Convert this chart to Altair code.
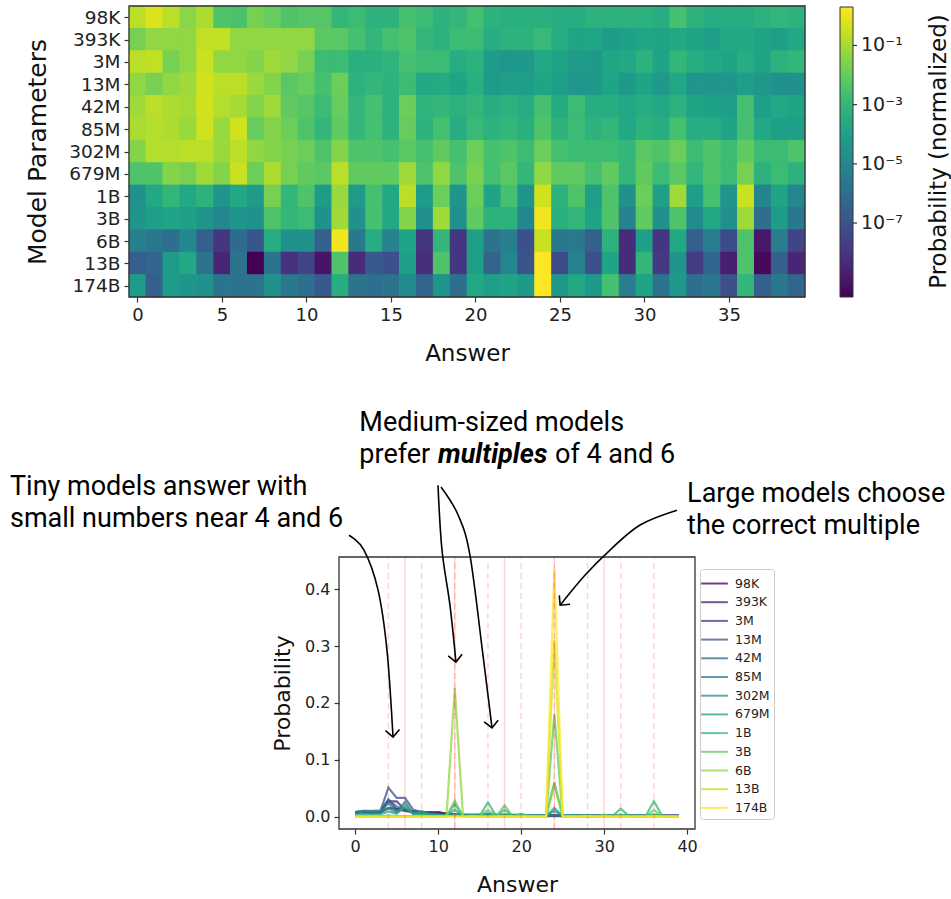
import altair as alt
import pandas as pd

W, H = 951, 899

# ---------------- data ----------------
models = ['98K', '393K', '3M', '13M', '42M', '85M', '302M', '679M', '1B', '3B', '6B', '13B', '174B']
answers = list(range(40))

# heatmap: log10 of normalized probability, one list per model (answers 0..39)
heat_98K = [-0.7,-0.2,-0.7,-1.4,-0.9,-2.4,-2.5,-1.7,-2.0,-2.4,-2.3,-2.3,-3.0,-2.8,-3.2,-3.2,-2.6,-2.8,-3.2,-3.0,-2.6,-3.2,-3.3,-3.3,-3.3,-3.4,-3.4,-3.2,-3.2,-3.2,-3.2,-3.4,-2.6,-3.2,-3.4,-3.4,-3.4,-3.2,-3.0,-3.2]
heat_393K = [-1.7,-1.3,-1.3,-1.3,-0.6,-0.6,-1.3,-1.3,-1.3,-1.3,-1.3,-2.2,-2.2,-2.6,-3.0,-2.6,-2.4,-3.0,-3.2,-2.8,-2.8,-3.4,-3.2,-3.2,-2.9,-3.4,-3.8,-3.7,-4.1,-3.9,-3.7,-3.8,-3.6,-3.8,-4.0,-3.6,-3.6,-3.8,-4.0,-3.6]
heat_3M = [-0.7,-0.6,-1.7,-1.3,-0.5,-1.3,-1.3,-1.5,-1.1,-1.3,-1.7,-2.8,-2.8,-3.3,-3.3,-3.1,-2.6,-2.8,-2.8,-3.4,-3.2,-4.1,-4.3,-4.2,-3.6,-3.8,-4.1,-4.2,-3.7,-3.6,-3.2,-3.8,-3.0,-3.4,-3.6,-3.8,-3.4,-3.8,-3.2,-3.0]
heat_13M = [-1.3,-1.7,-1.3,-1.1,-0.4,-0.7,-0.7,-1.2,-1.5,-2.2,-2.0,-2.6,-1.9,-3.2,-3.0,-3.2,-2.8,-3.6,-3.5,-3.8,-3.3,-4.1,-4.0,-4.0,-3.8,-4.0,-4.3,-4.3,-3.8,-4.2,-3.8,-4.2,-3.6,-4.4,-4.4,-4.4,-4.0,-4.3,-4.6,-4.6]
heat_42M = [-1.1,-0.7,-0.9,-1.0,-0.4,-0.8,-1.0,-1.5,-1.1,-2.1,-2.3,-2.8,-2.0,-3.0,-2.6,-3.2,-1.9,-3.1,-3.0,-3.2,-3.0,-3.4,-3.2,-3.4,-2.6,-3.5,-2.8,-3.4,-3.4,-3.6,-3.4,-3.6,-3.2,-3.8,-3.9,-4.0,-2.6,-4.0,-3.6,-3.8]
heat_85M = [-0.9,-0.8,-0.9,-1.2,-0.4,-1.2,-0.4,-2.0,-1.5,-1.9,-2.4,-3.0,-2.1,-3.0,-2.6,-3.2,-2.0,-3.2,-2.6,-3.4,-2.9,-3.2,-3.0,-3.3,-2.4,-3.2,-2.8,-3.2,-3.0,-3.6,-3.2,-3.4,-2.6,-3.4,-3.4,-3.8,-2.6,-3.6,-4.0,-4.0]
heat_302M = [-1.5,-0.8,-0.8,-0.7,-0.7,-1.2,-0.7,-1.3,-1.5,-1.7,-1.9,-2.4,-1.5,-2.4,-2.4,-2.6,-2.2,-2.6,-2.1,-2.6,-1.9,-2.6,-2.4,-2.8,-1.9,-2.6,-2.8,-2.8,-2.8,-3.0,-2.2,-2.4,-1.9,-2.8,-2.4,-2.8,-2.1,-2.8,-2.8,-2.4]
heat_679M = [-2.4,-2.4,-1.5,-1.7,-1.1,-1.5,-0.5,-1.9,-0.9,-1.7,-2.1,-2.2,-0.7,-2.1,-2.1,-2.1,-1.1,-2.4,-1.3,-2.4,-1.7,-2.6,-2.2,-3.0,-1.3,-2.1,-2.1,-2.6,-2.1,-3.0,-2.1,-2.8,-2.2,-3.0,-2.4,-2.8,-1.7,-3.2,-2.8,-3.2]
heat_1B = [-4.6,-3.6,-3.0,-3.6,-3.2,-4.4,-3.6,-4.1,-1.7,-3.0,-2.4,-4.1,-1.2,-4.1,-2.6,-3.6,-0.7,-4.1,-1.9,-4.4,-1.9,-3.8,-2.6,-4.4,-0.4,-3.2,-2.4,-4.0,-2.4,-4.6,-1.9,-4.0,-1.1,-4.0,-2.6,-4.4,-0.5,-5.1,-3.8,-5.0]
heat_3B = [-4.4,-4.0,-3.8,-4.0,-4.4,-5.0,-4.4,-4.6,-2.4,-3.0,-2.8,-4.6,-1.1,-4.6,-2.6,-3.6,-1.5,-4.6,-1.1,-4.6,-2.1,-3.2,-3.2,-5.0,0.1,-3.3,-3.0,-3.8,-2.4,-5.2,-2.1,-4.6,-2.4,-4.8,-3.6,-4.6,-1.1,-6.0,-4.1,-5.6]
heat_6B = [-5.3,-5.6,-6.0,-5.0,-6.6,-8.0,-6.1,-6.9,-3.4,-4.6,-4.6,-6.6,0.1,-5.6,-3.4,-5.2,-3.8,-8.0,-3.0,-8.0,-4.0,-5.8,-5.4,-7.1,-0.5,-5.6,-5.6,-6.6,-3.2,-8.3,-4.0,-8.0,-3.6,-6.6,-5.4,-7.3,-2.4,-8.9,-5.4,-7.5]
heat_13B = [-6.6,-6.3,-4.1,-3.6,-5.8,-8.5,-5.8,-9.5,-5.8,-8.1,-7.5,-9.0,-2.4,-8.3,-6.8,-7.1,-4.0,-8.2,-2.4,-8.0,-4.0,-6.4,-5.0,-7.0,0.3,-7.3,-5.2,-7.1,-3.8,-8.3,-3.0,-7.9,-4.4,-7.8,-6.3,-8.7,-2.4,-9.3,-6.6,-8.5]
heat_174B = [-4.1,-6.6,-4.1,-4.4,-4.6,-5.8,-5.8,-5.8,-4.6,-5.6,-6.0,-6.8,-3.4,-5.8,-6.0,-5.8,-4.8,-6.4,-4.4,-6.0,-3.6,-4.0,-3.8,-4.2,0.3,-4.2,-3.6,-4.2,-2.6,-5.4,-3.8,-5.8,-4.2,-6.0,-5.6,-7.1,-3.0,-6.6,-5.6,-6.3]
heat_rows = [heat_98K, heat_393K, heat_3M, heat_13M, heat_42M, heat_85M, heat_302M,
             heat_679M, heat_1B, heat_3B, heat_6B, heat_13B, heat_174B]

# line chart: probability per answer, one list per model
line_98K = [0.008,0.009,0.008,0.007,0.015,0.014,0.010,0.008,0.007,0.006,0.007,0.006,0.004,0.003,0.003,0.003,0.003,0.003,0.003,0.003,0.003,0.002,0.002,0.002,0.002,0.002,0.002,0.002,0.002,0.002,0.002,0.002,0.002,0.002,0.002,0.002,0.002,0.002,0.002,0.002]
line_393K = [0.006,0.009,0.009,0.009,0.027,0.027,0.012,0.009,0.008,0.008,0.008,0.005,0.004,0.003,0.003,0.003,0.003,0.003,0.002,0.002,0.002,0.002,0.002,0.002,0.002,0.002,0.002,0.002,0.002,0.002,0.002,0.002,0.002,0.002,0.002,0.002,0.002,0.002,0.002,0.002]
line_3M = [0.008,0.009,0.006,0.007,0.030,0.012,0.012,0.009,0.008,0.007,0.005,0.003,0.003,0.002,0.002,0.002,0.002,0.002,0.002,0.002,0.002,0.001,0.001,0.001,0.002,0.001,0.001,0.001,0.001,0.001,0.002,0.001,0.002,0.001,0.001,0.001,0.001,0.001,0.001,0.002]
line_13M = [0.007,0.006,0.007,0.008,0.051,0.033,0.033,0.012,0.008,0.005,0.004,0.003,0.003,0.002,0.002,0.002,0.002,0.001,0.001,0.001,0.002,0.001,0.001,0.001,0.001,0.001,0.001,0.001,0.001,0.001,0.001,0.001,0.001,0.001,0.001,0.001,0.001,0.001,0.001,0.001]
line_42M = [0.008,0.010,0.009,0.008,0.030,0.018,0.012,0.007,0.008,0.004,0.003,0.002,0.003,0.002,0.002,0.002,0.003,0.002,0.002,0.002,0.002,0.001,0.002,0.001,0.002,0.001,0.002,0.001,0.001,0.001,0.001,0.001,0.002,0.001,0.001,0.001,0.002,0.001,0.001,0.001]
line_85M = [0.008,0.009,0.008,0.007,0.024,0.008,0.026,0.005,0.006,0.004,0.003,0.002,0.003,0.002,0.002,0.002,0.003,0.002,0.002,0.002,0.002,0.002,0.002,0.002,0.002,0.002,0.002,0.002,0.002,0.001,0.002,0.001,0.002,0.001,0.001,0.001,0.002,0.001,0.001,0.001]
line_302M = [0.005,0.010,0.010,0.011,0.015,0.007,0.015,0.006,0.005,0.004,0.003,0.002,0.005,0.002,0.002,0.002,0.003,0.002,0.003,0.002,0.003,0.002,0.002,0.002,0.010,0.002,0.002,0.002,0.002,0.002,0.002,0.002,0.003,0.002,0.002,0.002,0.003,0.002,0.002,0.002]
line_679M = [0.003,0.003,0.005,0.004,0.009,0.005,0.020,0.004,0.010,0.004,0.003,0.002,0.012,0.002,0.002,0.002,0.006,0.002,0.004,0.002,0.003,0.002,0.002,0.001,0.015,0.002,0.002,0.002,0.002,0.001,0.002,0.001,0.002,0.001,0.002,0.001,0.004,0.001,0.001,0.001]
line_1B = [0.001,0.001,0.002,0.001,0.002,0.001,0.001,0.001,0.004,0.001,0.002,0.001,0.022,0.001,0.002,0.001,0.025,0.001,0.012,0.001,0.005,0.001,0.002,0.001,0.060,0.001,0.002,0.001,0.002,0.001,0.003,0.001,0.014,0.001,0.002,0.001,0.027,0.001,0.001,0.001]
line_3B = [0.001,0.001,0.001,0.001,0.001,0.000,0.001,0.001,0.002,0.001,0.001,0.000,0.028,0.000,0.002,0.001,0.012,0.000,0.020,0.000,0.004,0.001,0.001,0.000,0.180,0.001,0.001,0.001,0.002,0.000,0.003,0.000,0.004,0.000,0.001,0.000,0.012,0.000,0.001,0.000]
line_6B = [0.000,0.000,0.000,0.000,0.000,0.000,0.000,0.000,0.001,0.000,0.000,0.000,0.226,0.000,0.001,0.000,0.000,0.000,0.001,0.000,0.000,0.000,0.000,0.000,0.055,0.000,0.000,0.000,0.001,0.000,0.000,0.000,0.000,0.000,0.000,0.000,0.002,0.000,0.000,0.000]
line_13B = [0.000,0.000,0.000,0.000,0.000,0.000,0.000,0.000,0.000,0.000,0.000,0.000,0.002,0.000,0.000,0.000,0.000,0.000,0.002,0.000,0.000,0.000,0.000,0.000,0.310,0.000,0.000,0.000,0.000,0.000,0.001,0.000,0.000,0.000,0.000,0.000,0.002,0.000,0.000,0.000]
line_174B = [0.000,0.000,0.000,0.000,0.000,0.000,0.000,0.000,0.000,0.000,0.000,0.000,0.000,0.000,0.000,0.000,0.000,0.000,0.000,0.000,0.000,0.000,0.000,0.000,0.435,0.000,0.000,0.000,0.001,0.000,0.000,0.000,0.000,0.000,0.000,0.000,0.000,0.000,0.000,0.000]
line_rows = [line_98K, line_393K, line_3M, line_13M, line_42M, line_85M, line_302M,
             line_679M, line_1B, line_3B, line_6B, line_13B, line_174B]

line_colors = ['#440154', '#481f70', '#443983', '#3b528b', '#31688e', '#287c8e', '#21918c',
               '#20a486', '#35b779', '#5ec962', '#90d743', '#c8e020', '#fde725']

dashed_multiples = [4, 8, 12, 16, 20, 24, 28, 32, 36]
solid_multiples = [6, 12, 18, 24, 30]

heat_x_ticks = [0, 5, 10, 15, 20, 25, 30, 35]
line_x_ticks = [0, 10, 20, 30, 40]
line_y_ticks = [0.0, 0.1, 0.2, 0.3, 0.4]
cbar_ticks = [-7, -5, -3, -1]
cbar_labels = ['10⁻⁷', '10⁻⁵', '10⁻³', '10⁻¹']
cbar_domain = [-9.5, 0.3]

heat_x_domain = [-0.5, 39.5]
heat_y_domain = [-0.5, 12.5]
line_x_domain = [-1.95, 40.95]
line_y_domain = [-0.02175, 0.45675]

# annotations (line-chart data coordinates)
ann_text = ['Tiny models answer with', 'small numbers near 4 and 6', 'Medium-sized models',
            'prefer', 'of 4 and 6', 'Large models choose', 'the correct multiple']
ann_x = [-41.6, -41.6, 0.5, 0.5, 24.08, 40.0, 40.0]
ann_y = [0.580, 0.524, 0.693, 0.636, 0.636, 0.568, 0.512]
emph_text = ['multiples']
emph_x = [9.98]
emph_y = [0.636]

arrow_id = [1, 1, 1, 1, 1, 2, 2, 2, 2, 3, 3, 3, 3, 3, 4, 4, 4, 4, 4]
arrow_x = [-0.75, 1.06, 2.75, 3.83, 4.56, 9.98, 10.46, 11.42, 12.14,
           10.34, 12.39, 13.83, 15.4, 16.49, 38.78, 34.33, 30.71, 27.71, 24.7]
arrow_y = [0.495, 0.469, 0.399, 0.293, 0.140, 0.583, 0.469, 0.372, 0.272,
           0.580, 0.531, 0.460, 0.284, 0.156, 0.539, 0.513, 0.469, 0.425, 0.372]
head_x = [4.56, 12.14, 16.49, 24.7]
head_y = [0.140, 0.272, 0.156, 0.372]
head_angle = [356, 354, 353, 40]

cbar_title_pos = [47.4, 6.0]

# ---------------- layout (pixels) ----------------
HEAT_X = [129, 805]
HEAT_Y = [6, 297]
LINE_X = [339, 695]
LINE_Y = [829, 557]
CBAR_X = [840, 853]
CBAR_Y = [297, 7]
CBAR_TICK_LEN = 4
CELL_HALF = 0.52  # slight overlap of neighbouring cells to avoid hairline seams

FONT = 'DejaVu Sans'
ANN_FONT = 'Roboto'

# ---------------- tables ----------------
heat_df = pd.DataFrame([
    {'model': m, 'row': r, 'answer': a, 'logp': v}
    for r, (m, vals) in enumerate(zip(models, heat_rows))
    for a, v in zip(answers, vals)
])
line_df = pd.DataFrame([
    {'model': m, 'answer': a, 'p': v}
    for m, vals in zip(models, line_rows)
    for a, v in zip(answers, vals)
])

x_heat = alt.Scale(domain=heat_x_domain, range=HEAT_X, nice=False, zero=False)
y_heat = alt.Scale(domain=heat_y_domain, range=HEAT_Y, nice=False, zero=False)
x_line = alt.Scale(domain=line_x_domain, range=LINE_X, nice=False, zero=False)
y_line = alt.Scale(domain=line_y_domain, range=LINE_Y, nice=False, zero=False)
y_cbar = alt.Scale(domain=cbar_domain, range=CBAR_Y, nice=False, zero=False)

row_label_expr = '[' + ','.join("'%s'" % m for m in models) + '][datum.value]'
cbar_label_expr = ''.join("datum.value == %d ? '%s' : " % (v, s) for v, s in zip(cbar_ticks, cbar_labels)) + "''"

# ---------------- heatmap ----------------
heat = alt.Chart(heat_df).transform_calculate(
    x1='datum.answer - %g' % CELL_HALF, x2='datum.answer + %g' % CELL_HALF,
    y1='datum.row - %g' % CELL_HALF, y2='datum.row + %g' % CELL_HALF
).mark_rect().encode(
    x=alt.X('x1:Q', scale=x_heat,
            axis=alt.Axis(orient='bottom', offset=HEAT_Y[1] - H, values=heat_x_ticks,
                          title='Answer', titleFontSize=23, labelFontSize=18,
                          tickSize=5, titlePadding=18)),
    x2='x2:Q',
    y=alt.Y('y1:Q', scale=y_heat,
            axis=alt.Axis(orient='left', offset=-HEAT_X[0], values=list(range(len(models))),
                          labelExpr=row_label_expr, title='Model Parameters',
                          titleFontSize=25, labelFontSize=18.5, tickSize=5, titlePadding=18)),
    y2='y2:Q',
    color=alt.Color('logp:Q', scale=alt.Scale(scheme='viridis', domain=cbar_domain),
                    legend=alt.Legend(orient='none', legendX=CBAR_X[0], legendY=CBAR_Y[1],
                                      direction='vertical', type='gradient',
                                      gradientLength=CBAR_Y[0] - CBAR_Y[1],
                                      gradientThickness=CBAR_X[1] - CBAR_X[0], title=None,
                                      values=cbar_ticks, labelExpr=cbar_label_expr,
                                      labelFontSize=19, labelFont=FONT, labelColor='#222',
                                      gradientStrokeColor='#333', gradientStrokeWidth=1,
                                      labelOffset=8, padding=0)),
)

heat_frame = alt.Chart(pd.DataFrame({'x1': [heat_x_domain[0]], 'x2': [heat_x_domain[1]],
                                     'y1': [heat_y_domain[0]], 'y2': [heat_y_domain[1]]})
                       ).mark_rect(fillOpacity=0, stroke='#333', strokeWidth=1.3).encode(
    x=alt.X('x1:Q', scale=x_heat, axis=None), x2='x2:Q',
    y=alt.Y('y1:Q', scale=y_heat, axis=None), y2='y2:Q')

cbar_title = alt.Chart(pd.DataFrame({'t': ['Probability (normalized)'],
                                     'x': [cbar_title_pos[0]], 'y': [cbar_title_pos[1]]})
                       ).mark_text(angle=270, fontSize=23, font=FONT, color='#111',
                                   baseline='middle', align='center').encode(
    x=alt.X('x:Q', scale=x_heat, axis=None),
    y=alt.Y('y:Q', scale=y_heat, axis=None),
    text='t:N')

# colorbar tick marks (on the colorbar's own log10 scale)
cbar_tick_marks = alt.Chart(pd.DataFrame({'v': cbar_ticks})).mark_rule(
    color='#333', strokeWidth=1.2).encode(
    x=alt.value(CBAR_X[1]), x2=alt.value(CBAR_X[1] + CBAR_TICK_LEN),
    y=alt.Y('v:Q', scale=y_cbar, axis=None))

# ---------------- line chart ----------------
lines = alt.Chart(line_df).mark_line(strokeWidth=2.2, opacity=0.75).encode(
    x=alt.X('answer:Q', scale=x_line,
            axis=alt.Axis(orient='bottom', offset=LINE_Y[0] - H, values=line_x_ticks,
                          title='Answer', titleFontSize=22, labelFontSize=16,
                          tickSize=5, titlePadding=20)),
    y=alt.Y('p:Q', scale=y_line,
            axis=alt.Axis(orient='left', offset=-LINE_X[0], values=line_y_ticks, format='.1f',
                          title='Probability', titleFontSize=22, labelFontSize=16,
                          tickSize=5, titlePadding=10)),
    color=alt.Color('model:N', scale=alt.Scale(domain=models, range=line_colors),
                    legend=alt.Legend(orient='none', legendX=700, legendY=569, title=None,
                                      symbolType='M-1.45,0L1.45,0', symbolSize=340,
                                      symbolStrokeWidth=2, labelFontSize=12.5, labelFont=FONT,
                                      labelColor='#222', rowPadding=1.7, padding=4,
                                      strokeColor='#cccccc', cornerRadius=3, fillColor='white',
                                      labelOffset=10)),
    order='answer:Q',
)

rule_df_d = pd.DataFrame({'x': dashed_multiples, 'lo': line_y_domain[0], 'hi': line_y_domain[1]})
rule_df_s = pd.DataFrame({'x': solid_multiples, 'lo': line_y_domain[0], 'hi': line_y_domain[1]})
rules_dashed = alt.Chart(rule_df_d).mark_rule(color='red', opacity=0.17, strokeWidth=1.5,
                                              strokeDash=[6, 4]).encode(
    x=alt.X('x:Q', scale=x_line, axis=None),
    y=alt.Y('lo:Q', scale=y_line, axis=None), y2='hi:Q')
rules_solid = alt.Chart(rule_df_s).mark_rule(color='red', opacity=0.17, strokeWidth=1.5).encode(
    x=alt.X('x:Q', scale=x_line, axis=None),
    y=alt.Y('lo:Q', scale=y_line, axis=None), y2='hi:Q')

line_frame = alt.Chart(pd.DataFrame({'x1': [line_x_domain[0]], 'x2': [line_x_domain[1]],
                                     'y1': [line_y_domain[0]], 'y2': [line_y_domain[1]]})
                       ).mark_rect(fillOpacity=0, stroke='#333', strokeWidth=1.3).encode(
    x=alt.X('x1:Q', scale=x_line, axis=None), x2='x2:Q',
    y=alt.Y('y1:Q', scale=y_line, axis=None), y2='y2:Q')

ann = alt.Chart(pd.DataFrame({'t': ann_text, 'x': ann_x, 'y': ann_y})).mark_text(
    font=ANN_FONT, fontSize=27, align='left', baseline='middle', color='#000').encode(
    x=alt.X('x:Q', scale=x_line, axis=None), y=alt.Y('y:Q', scale=y_line, axis=None), text='t:N')
emph = alt.Chart(pd.DataFrame({'t': emph_text, 'x': emph_x, 'y': emph_y})).mark_text(
    font=ANN_FONT, fontSize=27, align='left', baseline='middle', color='#000',
    fontStyle='italic', fontWeight='bold').encode(
    x=alt.X('x:Q', scale=x_line, axis=None), y=alt.Y('y:Q', scale=y_line, axis=None), text='t:N')

arrow_df = pd.DataFrame({'id': arrow_id, 'x': arrow_x, 'y': arrow_y,
                         'ord': list(range(len(arrow_x)))})
arrows = alt.Chart(arrow_df).mark_line(color='black', strokeWidth=1.6, interpolate='cardinal').encode(
    x=alt.X('x:Q', scale=x_line, axis=None), y=alt.Y('y:Q', scale=y_line, axis=None),
    detail='id:N', order='ord:Q')
heads = alt.Chart(pd.DataFrame({'x': head_x, 'y': head_y, 'a': head_angle})).mark_point(
    shape='M-1,-1L0,0L1,-1', size=196, filled=False, stroke='black', strokeWidth=1.6,
    opacity=1).encode(
    x=alt.X('x:Q', scale=x_line, axis=None), y=alt.Y('y:Q', scale=y_line, axis=None),
    angle=alt.Angle('a:Q', scale=None))

chart = alt.layer(
    heat, heat_frame, cbar_title, cbar_tick_marks,
    lines, rules_dashed, rules_solid, line_frame, arrows, heads, ann, emph
).resolve_scale(
    x='independent', y='independent', color='independent'
).properties(
    width=W, height=H, padding=0, autosize=alt.AutoSizeParams(type='none'),
    background='white'
).configure_view(stroke=None).configure_axis(
    grid=False, domain=False, labelFlush=False, labelOverlap=False,
    tickColor='#333', tickWidth=1.2, labelColor='#222', titleColor='#111',
    labelFont=FONT, titleFont=FONT, titleFontWeight='normal', labelPadding=4)

chart.save('out.html', embed_options={'renderer': 'svg', 'actions': False})
